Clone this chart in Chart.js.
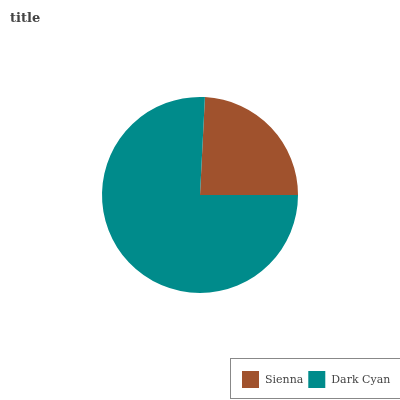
<!DOCTYPE html>
<html>
<head>
<meta charset="utf-8">
<script src="https://cdn.jsdelivr.net/npm/chart.js@4"></script>
<style>
  html, body { margin: 0; padding: 0; background: #fff; }
  #wrap { width: 400px; height: 400px; }
</style>
</head>
<body>
<div id="wrap"><canvas id="myChart" width="400" height="400"></canvas></div>
<script>
const categories = ['Sienna', 'Dark Cyan'];
const values = [24.2, 75.8];
const colors = ['#a0522d', '#008b8b'];
const chartTitle = 'title';

// the first slice ends at 3 o'clock
const rotation = 90 - values[0] / (values[0] + values[1]) * 360;

const extras = {
  id: 'extras',
  afterDraw: (chart) => {
    const { ctx } = chart;
    ctx.save();
    // title
    ctx.fillStyle = '#444';
    ctx.font = 'bold 13px "DejaVu Serif"';
    ctx.textBaseline = 'alphabetic';
    ctx.fillText(chartTitle, 10, 22);

    // legend box
    ctx.strokeStyle = '#888';
    ctx.lineWidth = 1;
    ctx.strokeRect(230.5, 358.5, 180, 40);

    ctx.font = '11px "DejaVu Serif"';
    ctx.textBaseline = 'middle';
    let x = 242;
    categories.forEach((name, i) => {
      ctx.fillStyle = colors[i];
      ctx.fillRect(x, 371, 17, 17);
      ctx.fillStyle = '#444';
      ctx.fillText(name, x + 23, 380);
      x += 23 + ctx.measureText(name).width + 5;
    });
    ctx.restore();
  }
};

new Chart(document.getElementById('myChart'), {
  type: 'pie',
  data: {
    labels: categories,
    datasets: [{
      data: values,
      backgroundColor: colors,
      borderWidth: 0
    }]
  },
  options: {
    responsive: false,
    animation: false,
    rotation: rotation,
    layout: { padding: { top: 97, bottom: 107, left: 0, right: 0 } },
    plugins: {
      legend: { display: false },
      title: { display: false },
      tooltip: { enabled: false }
    }
  },
  plugins: [extras]
});
</script>
</body>
</html>
